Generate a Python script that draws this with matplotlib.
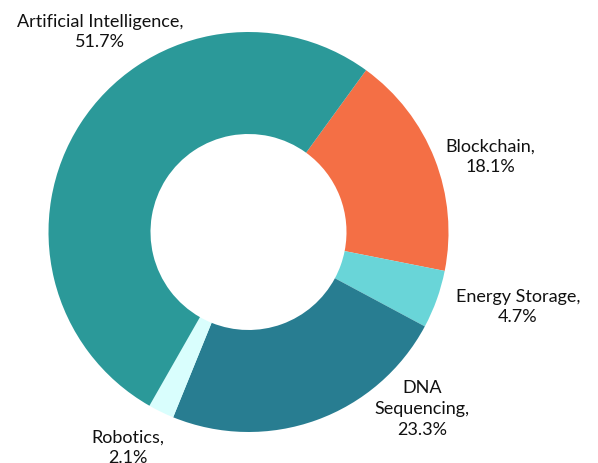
import matplotlib
matplotlib.use("Agg")
import matplotlib.pyplot as plt

categories = ["Blockchain", "Energy Storage", "DNA Sequencing", "Robotics", "Artificial Intelligence"]
values = [18.1, 4.7, 23.3, 2.1, 51.7]
label_texts = ["Blockchain,\n18.1%", "Energy Storage,\n4.7%", "DNA\nSequencing,\n23.3%",
               "Robotics,\n2.1%", "Artificial Intelligence,\n51.7%"]
colors = ["#f46f45", "#69d5d8", "#287d91", "#d9fefd", "#2b9999"]

plt.rcParams['font.family'] = ['Lato', 'DejaVu Sans']

W, H = 598, 463
fig = plt.figure(figsize=(W / 100, H / 100), dpi=100)
ax = fig.add_axes([0, 0, 1, 1])
cx, cy, R = 248.5, 232, 200
ax.set_xlim(-cx / R, (W - cx) / R)
ax.set_ylim(-(H - cy) / R, cy / R)
ax.axis('off')

ax.pie(values, colors=colors, startangle=54, counterclock=False, radius=1,
       wedgeprops=dict(width=0.51, linewidth=0))

label_px = [(490, 157), (518, 307), (422, 409), (128, 448), (100, 32)]
for txt, (px, py) in zip(label_texts, label_px):
    ax.text((px - cx) / R, (cy - py) / R, txt, ha='center', va='center',
            fontsize=13, color='#111111', linespacing=1.35)

ax.set_xlim(-cx / R, (W - cx) / R)
ax.set_ylim(-(H - cy) / R, cy / R)
fig.savefig("out.png", dpi=100)
